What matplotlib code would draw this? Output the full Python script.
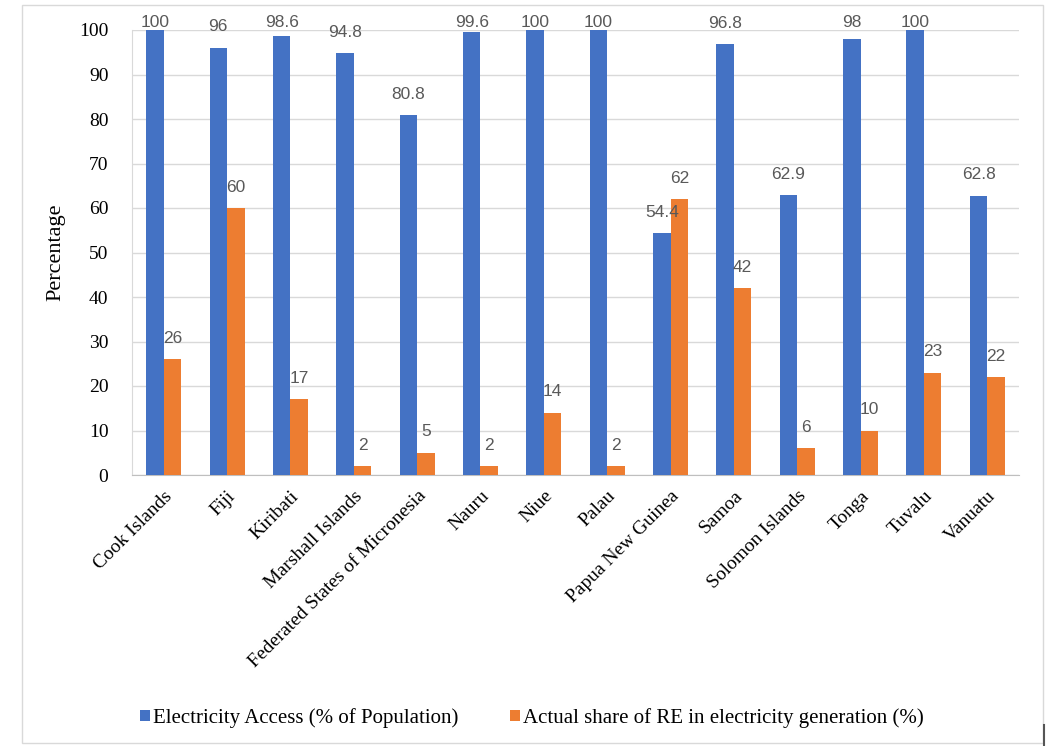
import numpy as np
import matplotlib.pyplot as plt
from matplotlib.patches import Rectangle
from matplotlib.lines import Line2D

countries = ["Cook Islands", "Fiji", "Kiribati", "Marshall Islands",
             "Federated States of Micronesia", "Nauru", "Niue", "Palau",
             "Papua New Guinea", "Samoa", "Solomon Islands", "Tonga",
             "Tuvalu", "Vanuatu"]
access = [100, 96, 98.6, 94.8, 80.8, 99.6, 100, 100, 54.4, 96.8, 62.9, 98, 100, 62.8]
re_share = [26, 60, 17, 2, 5, 2, 14, 2, 62, 42, 6, 10, 23, 22]

BLUE = "#4472C4"
ORANGE = "#ED7D31"
plt.rcParams["font.family"] = ["Liberation Serif", "DejaVu Serif"]
W, H = 1051, 746

fig = plt.figure(figsize=(W / 100, H / 100), dpi=100)
ax = fig.add_axes([132 / W, 1 - 475 / H, 887 / W, 445 / H])

x = np.arange(len(countries))
w = 0.276
b1 = ax.bar(x - w / 2, access, w, color=BLUE, label="Electricity Access (% of Population)", zorder=3)
b2 = ax.bar(x + w / 2, re_share, w, color=ORANGE,
            label="Actual share of RE in electricity generation (%)", zorder=3)

# value labels sit above each bar, but are kept from running off the top of the plot
for bars, vals in ((b1, access), (b2, re_share)):
    for r, v in zip(bars, vals):
        ax.text(r.get_x() + r.get_width() / 2, min(v + 4.7, 101.6), f"{v:g}",
                ha="center", va="center", fontsize=12.5, color="#595959",
                family=["Liberation Sans", "DejaVu Sans"], zorder=4, clip_on=False)

ax.set_xlim(-0.5, len(countries) - 0.5)
ax.set_ylim(0, 100)
ax.set_yticks(range(0, 101, 10))
ax.yaxis.grid(True, color="#D9D9D9", lw=1, zorder=0)
ax.tick_params(axis="both", length=0)
ax.tick_params(axis="y", pad=17, labelsize=14)
ax.set_xticks(x)
ax.set_xticklabels(countries, rotation=45, ha="right", rotation_mode="anchor", fontsize=14)
ax.tick_params(axis="x", pad=9)
for s in ("top", "right"):
    ax.spines[s].set_visible(False)
ax.spines["left"].set_color("#D9D9D9")
ax.spines["bottom"].set_color("#BFBFBF")
ax.set_ylabel("Percentage", fontsize=16)
ax.yaxis.set_label_coords((65 - 132) / 887, 0.5)

fig.legend(handles=[b1, b2], loc="center", bbox_to_anchor=(532 / W, 1 - 718 / H), ncol=2,
           frameon=False, prop={"size": 15}, handlelength=0.45,
           handleheight=0.45, handletextpad=0.15, columnspacing=2.5)

# outer chart frame
fig.patches.append(Rectangle((22 / W, 1 - 743 / H), 1021 / W, 738 / H,
                             transform=fig.transFigure, fill=False, ec="#D9D9D9", lw=1))
fig.lines.append(Line2D([1044 / W, 1044 / W], [0, 21 / H], transform=fig.transFigure,
                        color="#555555", lw=1.5))

fig.savefig("out.png", dpi=100)
